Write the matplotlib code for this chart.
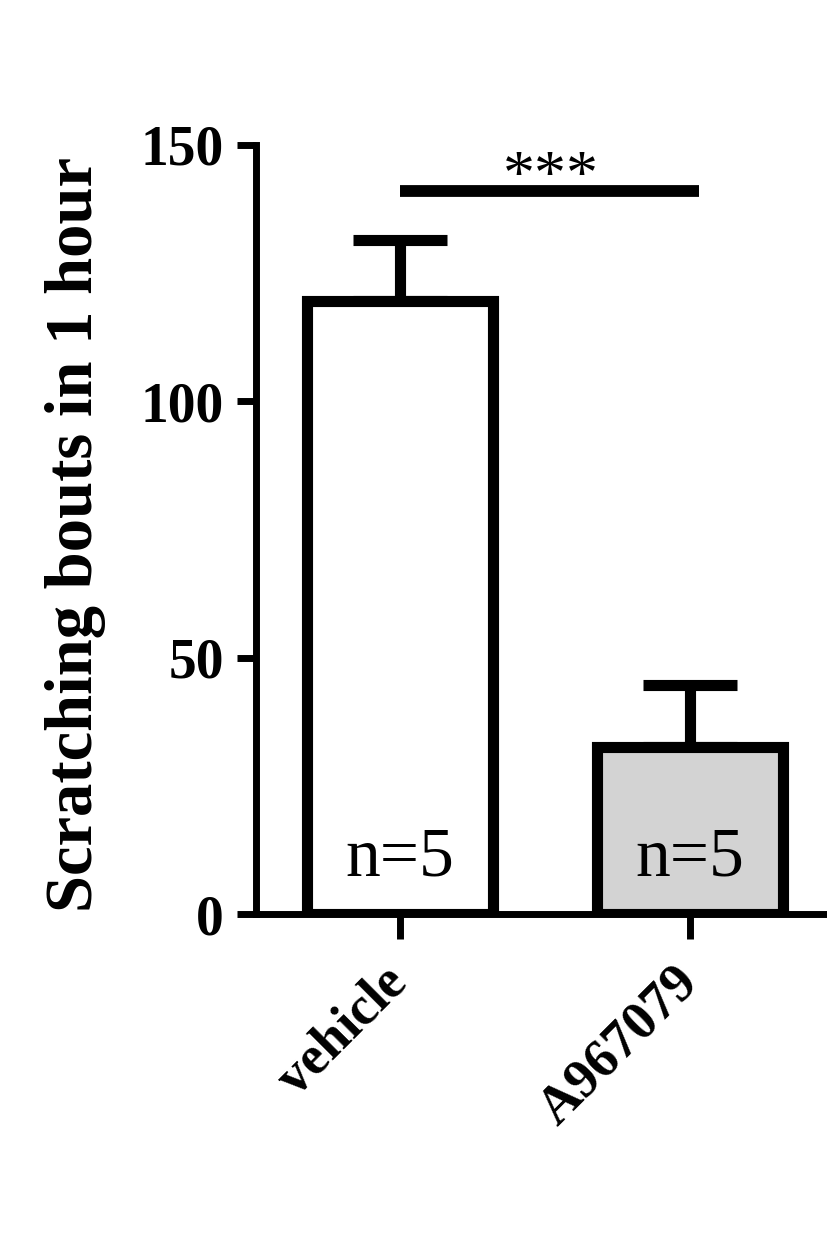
import numpy as np
import matplotlib.pyplot as plt

# data
groups = ['vehicle', 'A967079']
means = [119.5, 32.5]
sem = [12.0, 12.2]
n_labels = ['n=5', 'n=5']
bar_colors = ['white', '#d3d3d3']
sig_y = 141
sig_text = '***'

serif = ['Liberation Serif', 'DejaVu Serif']

fig = plt.figure(figsize=(8.27, 12.36), dpi=100)
ax = fig.add_axes([0.3096, 0.2605, 0.6904, 0.6222])

x = np.arange(len(groups))
ax.bar(x, means, width=0.64, color=bar_colors, edgecolor='black',
       linewidth=8, zorder=2)
# one-sided (upper) error bars
ax.errorbar(x, means, yerr=[np.zeros(len(sem)), sem], fmt='none',
            ecolor='black', elinewidth=8, capsize=34, capthick=8, zorder=1)

for xi, lab in zip(x, n_labels):
    ax.text(xi, 7.6, lab, ha='center', va='baseline', fontsize=50,
            family=serif, zorder=3)

# significance bar
ax.plot([x[0], x[1] + 0.03], [sig_y, sig_y], color='black', lw=8.5,
        solid_capstyle='butt', clip_on=False)
ax.text((x[0] + x[1]) / 2 + 0.02, 140.5, sig_text, ha='center',
        va='baseline', fontsize=46, family=serif, clip_on=False)

ax.set_xlim(-0.4966, 1.472)
ax.set_ylim(0, 150)
ax.set_yticks([0, 50, 100, 150])
ax.set_xticks(x)
ax.set_xticklabels(groups, rotation=45, ha='right', va='center',
                   rotation_mode='anchor', fontsize=39, fontweight='bold',
                   family=serif)
for t in ax.get_yticklabels():
    t.set_family(serif)
    t.set_fontweight('bold')
    t.set_fontsize(40)

ax.set_ylabel('Scratching bouts in 1 hour', fontsize=48, fontweight='bold',
              family=serif, va='center')
ax.yaxis.set_label_coords(-0.317, 0.493)

for s in ['top', 'right']:
    ax.spines[s].set_visible(False)
for s in ['left', 'bottom']:
    ax.spines[s].set_linewidth(5)
ax.tick_params(axis='both', width=5, length=14)
ax.tick_params(axis='y', pad=9)
ax.tick_params(axis='x', length=18, pad=26)

fig.savefig('out.png', dpi=100)
